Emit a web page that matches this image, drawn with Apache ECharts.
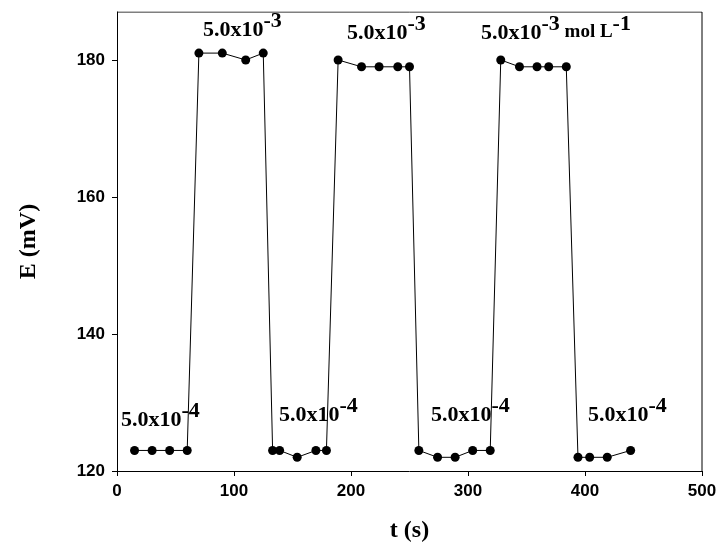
<!DOCTYPE html>
<html><head><meta charset="utf-8">
<script src="https://cdn.jsdelivr.net/npm/echarts@6/dist/echarts.min.js"></script>
<style>html,body{margin:0;padding:0;background:#fff}#c{width:726px;height:553px}</style>
</head><body><div id="c"></div>
<script>
const times = [15,30,45,60,70,90,110,125,133,139,154,170,179,189,209,224,240,250,258,274,289,304,319,328,344,359,369,384,394,404,419,439];
const potentials = [123,123,123,123,181,181,180,181,123,123,122,123,123,180,179,179,179,179,123,122,122,123,123,180,179,179,179,179,122,122,122,123];
const xTicks = [0,100,200,300,400,500];
const yTicks = [120,140,160,180];
const labels = [
  {t:"5.0x10", e:"-4", x:121, y:400},
  {t:"5.0x10", e:"-3", x:203, y:10},
  {t:"5.0x10", e:"-4", x:279, y:395},
  {t:"5.0x10", e:"-3", x:347, y:13},
  {t:"5.0x10", e:"-4", x:431, y:395},
  {t:"5.0x10", e:"-3", x:481, y:13, u:" mol L", ue:"-1"},
  {t:"5.0x10", e:"-4", x:588, y:395}
];
const ch = echarts.init(document.getElementById('c'));
const serif = '"Liberation Serif", "Times New Roman", serif';
const sans = '"Liberation Sans", Arial, sans-serif';
ch.setOption({
  animation:false,
  grid:{left:117,right:24,top:12,bottom:82},
  xAxis:{type:'value',min:0,max:500,interval:100,
    name:'t (s)',nameLocation:'middle',nameGap:48,
    nameTextStyle:{fontFamily:serif,fontWeight:'bold',fontSize:24,color:'#000'},
    axisLine:{lineStyle:{color:'#000'}},axisTick:{lineStyle:{color:'#000'}},
    axisLabel:{color:'#000',fontFamily:sans,fontWeight:'bold',fontSize:17,margin:12},
    splitLine:{show:false}},
  yAxis:{type:'value',min:120,max:187,interval:20,
    name:'E (mV)',nameLocation:'middle',nameGap:76,
    nameTextStyle:{fontFamily:serif,fontWeight:'bold',fontSize:24,color:'#000'},
    axisLine:{show:true,lineStyle:{color:'#000'}},axisTick:{show:true,lineStyle:{color:'#000'}},
    axisLabel:{color:'#000',fontFamily:sans,fontWeight:'bold',fontSize:17,showMaxLabel:false,margin:12},
    splitLine:{show:false}},
  series:[
    {type:'line',data:times.map((t,i)=>[t,potentials[i]]),symbol:'circle',symbolSize:9,
     itemStyle:{color:'#000'},lineStyle:{color:'#000',width:1}},
    {type:'line',data:[[0,187],[500,187]],symbol:'none',lineStyle:{color:'#000',width:1},silent:true},
    {type:'line',data:[[500,120],[500,187]],symbol:'none',lineStyle:{color:'#000',width:1},silent:true}
  ],
  graphic:labels.map(l=>({type:'text',left:l.x,top:l.y,style:{
    text:'{b|'+l.t+'}{s|'+l.e+'}'+(l.u?'{m|'+l.u+'}{s|'+l.ue+'}':''),
    rich:{b:{fontFamily:serif,fontWeight:'bold',fontSize:22,fill:'#000',verticalAlign:'bottom'},
          s:{fontFamily:serif,fontWeight:'bold',fontSize:22,fill:'#000',verticalAlign:'bottom',padding:[0,0,9,0]},
          m:{fontFamily:serif,fontWeight:'bold',fontSize:19,fill:'#000',verticalAlign:'bottom',padding:[0,0,2,0]}}
  }}))
});
</script></body></html>
